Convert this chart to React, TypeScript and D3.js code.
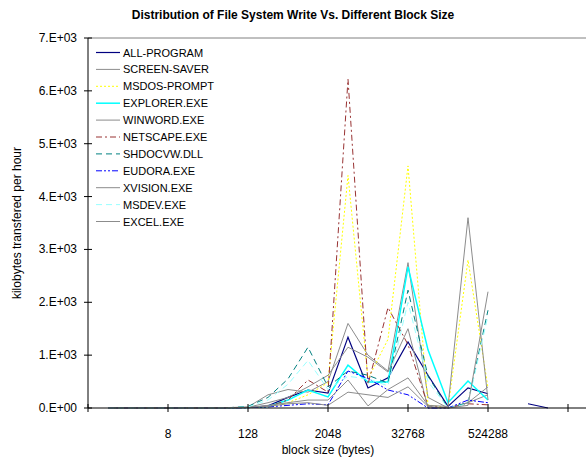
import * as d3 from 'd3';

const blockSizes = [
  1, 2, 4, 8, 16, 32, 64, 128, 256, 512, 1024, 2048, 4096, 8192, 16384, 32768, 65536, 131072, 262144, 524288,
  1048576, 2097152, 4194304,
];

// kilobytes per hour, one entry per block size (null = no data)
const allProgram = [0, 0, 0, 1, 2, 4, 6, 10, 40, 200, 340, 280, 1340, 380, 570, 1250, 620, 30, 380, 270, null, 80, 0];
const screenSaver = [0, 0, 0, 0, 1, 3, 8, 20, 250, 350, 300, 500, 1600, 1000, 700, 2750, 200, 0, 100, 250];
const msdosPrompt = [0, 0, 0, 0, 0, 2, 4, 8, 20, 100, 250, 480, 4400, 550, 1300, 4580, 60, 0, 2800, 380];
const explorer = [0, 0, 0, 1, 2, 3, 5, 10, 30, 150, 340, 210, 810, 490, 490, 2670, 1100, 100, 510, 150];
const winword = [0, 0, 0, 0, 1, 2, 4, 15, 100, 200, 400, 620, 1150, 960, 680, 1500, 0, 0, 100, 400];
const netscape = [0, 0, 0, 0, 0, 1, 3, 10, 30, 150, 530, 300, 6220, 450, 1900, 1200, 40, 0, 80, 60];
const shdocvw = [0, 0, 0, 0, 1, 2, 5, 30, 200, 550, 1150, 400, 700, 620, 470, 2230, 600, 0, 100, 1850];
const eudora = [0, 0, 0, 0, 0, 1, 2, 5, 20, 50, 80, 60, 700, 560, 340, 250, 0, 0, 150, 100];
const xvision = [0, 0, 0, 0, 0, 1, 3, 10, 50, 100, 150, 150, 530, 40, 350, 570, 50, 30, 3600, 150];
const msdev = [0, 0, 0, 0, 1, 2, 4, 20, 150, 450, 900, 350, 600, 550, 420, 2000, 500, 0, 80, 1750];
const excel = [0, 0, 0, 0, 0, 1, 2, 8, 30, 80, 100, 50, 300, 250, 200, 400, 30, 0, 50, 2200];

const seriesNames = [
  'ALL-PROGRAM',
  'SCREEN-SAVER',
  'MSDOS-PROMPT',
  'EXPLORER.EXE',
  'WINWORD.EXE',
  'NETSCAPE.EXE',
  'SHDOCVW.DLL',
  'EUDORA.EXE',
  'XVISION.EXE',
  'MSDEV.EXE',
  'EXCEL.EXE',
];
const seriesValues = [allProgram, screenSaver, msdosPrompt, explorer, winword, netscape, shdocvw, eudora, xvision, msdev, excel];

const yTickValues = [0, 1000, 2000, 3000, 4000, 5000, 6000, 7000];
const yTickLabels = ['0.E+00', '1.E+03', '2.E+03', '3.E+03', '4.E+03', '5.E+03', '6.E+03', '7.E+03'];
const xTickValues = [0.5, 8, 128, 2048, 32768, 524288, 8388608];
const xTickLabels = ['', '8', '128', '2048', '32768', '524288', ''];

const styles = [
  { color: '#000080', dash: '', width: 1.2 },
  { color: '#8c8c8c', dash: '', width: 1 },
  { color: '#ffff00', dash: '2,2', width: 1 },
  { color: '#00ffff', dash: '', width: 1.5 },
  { color: '#8c8c8c', dash: '', width: 1 },
  { color: '#993333', dash: '6,3,2,3', width: 1 },
  { color: '#008080', dash: '6,4', width: 1 },
  { color: '#0000ff', dash: '6,2,2,2,2,2', width: 1 },
  { color: '#8c8c8c', dash: '', width: 1 },
  { color: '#99ffff', dash: '6,4', width: 1 },
  { color: '#8c8c8c', dash: '', width: 1 },
];

const W = 586;
const H = 458;
const left = 88;
const top = 38;
const bottom = 408;
const font = 'Liberation Sans, Arial, sans-serif';

export default function App() {
  const x = d3.scaleLog().base(2).domain([0.5, 16777216]).range([left, 588]);
  const y = d3.scaleLinear().domain([0, 7000]).range([bottom, top]);

  const line = d3
    .line<number | null>()
    .defined((d) => d != null)
    .x((_, i) => x(blockSizes[i]))
    .y((d) => y(d as number));

  return (
    <svg width={W} height={H} style={{ position: 'absolute', left: 0, top: 0, background: '#fff' }} fontFamily={font}>
      <text x={293} y={19} textAnchor="middle" fontSize={12} fontWeight="bold">
        Distribution of File System Write Vs. Different Block Size
      </text>

      <line x1={left} x2={W} y1={top} y2={top} stroke="#808080" strokeWidth={1} />

      {seriesValues.map((vals, i) => (
        <path
          key={seriesNames[i]}
          d={line(vals) ?? ''}
          fill="none"
          stroke={styles[i].color}
          strokeWidth={styles[i].width}
          strokeDasharray={styles[i].dash || undefined}
        />
      ))}

      {/* y axis */}
      <line x1={left} x2={left} y1={top} y2={bottom} stroke="#000" strokeWidth={1} />
      {yTickValues.map((v, i) => (
        <g key={v}>
          <line x1={left - 4} x2={left + 4} y1={y(v)} y2={y(v)} stroke="#000" />
          <text x={77} y={y(v) + 4} textAnchor="end" fontSize={12}>
            {yTickLabels[i]}
          </text>
        </g>
      ))}
      <text transform={`translate(21,${(top + bottom) / 2}) rotate(-90)`} textAnchor="middle" fontSize={12}>
        kilobytes transfered per hour
      </text>

      {/* x axis */}
      <line x1={left} x2={W} y1={bottom} y2={bottom} stroke="#000" strokeWidth={1} />
      {xTickValues.map((v, i) => (
        <g key={v}>
          <line x1={x(v)} x2={x(v)} y1={bottom - 4} y2={bottom + 4} stroke="#000" />
          <text x={x(v)} y={438} textAnchor="middle" fontSize={12}>
            {xTickLabels[i]}
          </text>
        </g>
      ))}
      <text x={328} y={454} textAnchor="middle" fontSize={12}>
        block size (bytes)
      </text>

      {/* legend */}
      {seriesNames.map((name, i) => {
        const ly = 52.5 + i * 16.9;
        return (
          <g key={name}>
            <line
              x1={96}
              x2={120}
              y1={ly}
              y2={ly}
              stroke={styles[i].color}
              strokeWidth={styles[i].width}
              strokeDasharray={styles[i].dash || undefined}
            />
            <text x={123} y={ly + 4} fontSize={11}>
              {name}
            </text>
          </g>
        );
      })}
    </svg>
  );
}
